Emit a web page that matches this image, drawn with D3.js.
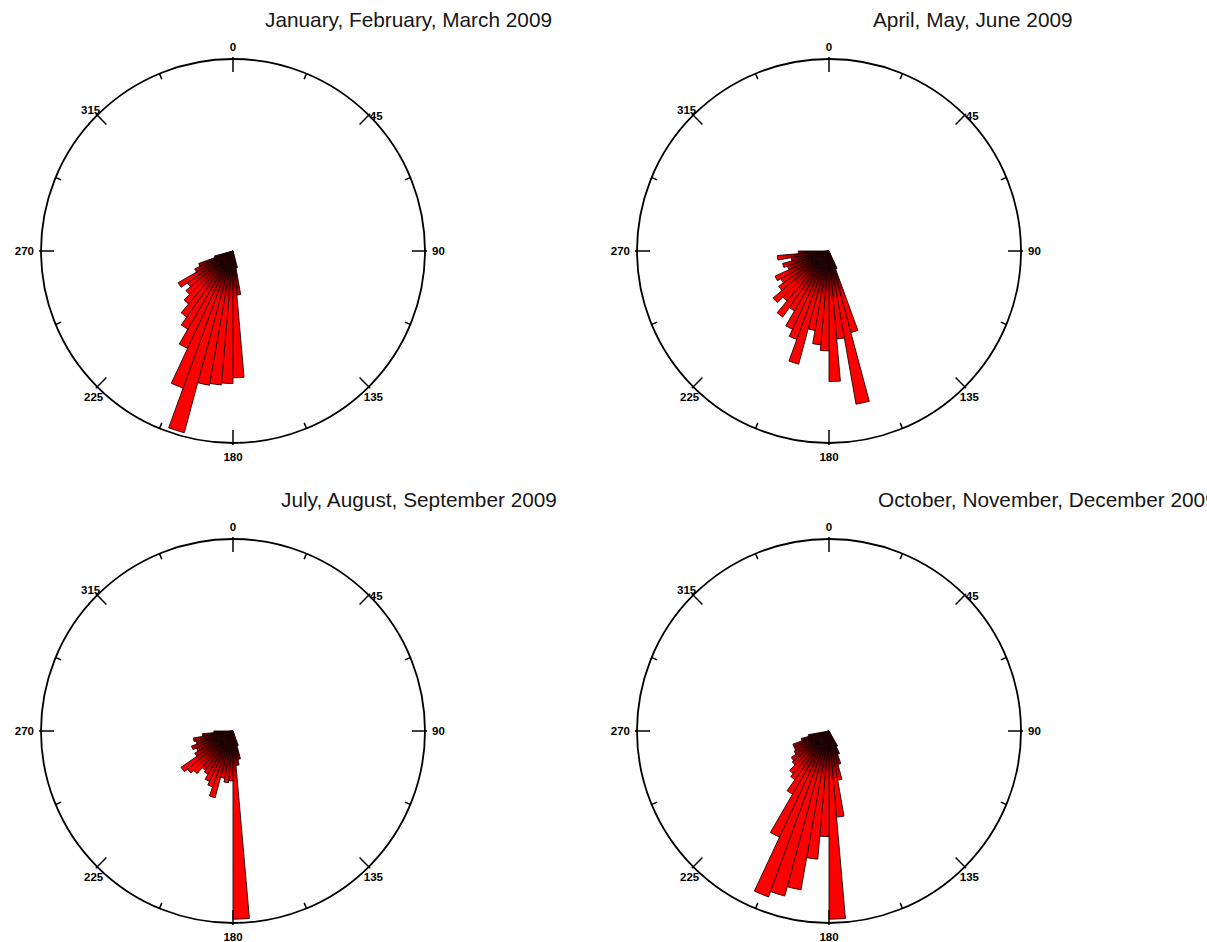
<!DOCTYPE html>
<html>
<head>
<meta charset="utf-8">
<script src="https://cdn.jsdelivr.net/npm/d3@7"></script>
<style>
  body { margin: 0; background: #fff; }
  svg { display: block; }
</style>
</head>
<body>
<svg id="chart" width="1207" height="942"></svg>
<script>
'use strict';

// bin width of every rose, in degrees
const binWidth = 5;

// per quarter: first bin start (deg) and bar lengths (% of outer circle)
const janMarStart = 165;
const janMarValues = [9, 23, 66, 69, 70, 71, 98, 76, 56, 47, 42, 36, 32, 29, 33, 22, 19, 10];

const aprJunStart = 155;
const aprJunValues = [10, 44, 81, 46, 68, 52, 49, 42, 61, 49, 45, 36, 42, 34, 38, 32, 29, 31, 23, 25, 20, 27, 16];

const julSepStart = 160;
const julSepValues = [8, 15, 18, 98, 26, 27, 25, 36, 31, 29, 26, 25, 29, 31, 33, 23, 21, 23, 20, 21, 16, 10];

const octDecStart = 150;
const octDecValues = [9, 13, 18, 26, 45, 98, 55, 67, 84, 89, 92, 61, 38, 31, 29, 25, 24, 21, 20, 20, 15, 11];

const titles = [
  'January, February, March 2009',
  'April, May, June 2009',
  'July, August, September 2009',
  'October, November, December 2009'
];

const axisLabels = [0, 45, 90, 135, 180, 225, 270, 315];
const tickStep = 22.5;

// ---- layout
const R = 192;
const panels = [
  { start: janMarStart, values: janMarValues, title: titles[0], cx: 233, cy: 251, tx: 265, ty: 27 },
  { start: aprJunStart, values: aprJunValues, title: titles[1], cx: 829, cy: 251, tx: 873, ty: 27 },
  { start: julSepStart, values: julSepValues, title: titles[2], cx: 233, cy: 731, tx: 281, ty: 507 },
  { start: octDecStart, values: octDecValues, title: titles[3], cx: 829, cy: 731, tx: 878, ty: 507 }
];

const svg = d3.select('#chart');
const rad = d3.scaleLinear().domain([0, 360]).range([0, 2 * Math.PI]);
const r = d3.scaleLinear().domain([0, 100]).range([0, R]);

const defs = svg.append('defs');
const grad = defs.append('radialGradient')
  .attr('id', 'barFill')
  .attr('gradientUnits', 'userSpaceOnUse')
  .attr('cx', 0).attr('cy', 0).attr('r', R);
grad.append('stop').attr('offset', 0).attr('stop-color', '#000');
grad.append('stop').attr('offset', 0.1).attr('stop-color', '#1a0000');
grad.append('stop').attr('offset', 0.26).attr('stop-color', '#ff0000');
grad.append('stop').attr('offset', 1).attr('stop-color', '#ff0000');

const arc = d3.arc()
  .innerRadius(0)
  .outerRadius(function (d) { return r(d.value); })
  .startAngle(function (d) { return rad(d.a0); })
  .endAngle(function (d) { return rad(d.a0 + binWidth); });

function polar(angleDeg, radius) {
  const a = rad(angleDeg);
  return [radius * Math.sin(a), -radius * Math.cos(a)];
}

function labelPos(deg) {
  const p = polar(deg, R);
  switch (deg) {
    case 0: return { x: 0, y: -R - 8, anchor: 'middle' };
    case 45: return { x: p[0] + 1, y: p[1] + 5, anchor: 'start' };
    case 90: return { x: R + 7, y: 4, anchor: 'start' };
    case 135: return { x: p[0] - 5, y: p[1] + 14, anchor: 'start' };
    case 180: return { x: 0, y: R + 18, anchor: 'middle' };
    case 225: return { x: p[0] + 6, y: p[1] + 14, anchor: 'end' };
    case 270: return { x: -R - 7, y: 4, anchor: 'end' };
    default: return { x: p[0] + 3, y: p[1] - 1, anchor: 'end' };
  }
}

panels.forEach(function (panel) {
  svg.append('text')
    .attr('x', panel.tx)
    .attr('y', panel.ty)
    .attr('font-family', 'Liberation Sans, Arial, sans-serif')
    .attr('font-size', 20.8)
    .attr('fill', '#161616')
    .text(panel.title);

  const g = svg.append('g')
    .attr('transform', 'translate(' + panel.cx + ',' + panel.cy + ')');

  const bins = panel.values.map(function (v, i) {
    return { a0: panel.start + i * binWidth, value: v };
  });

  g.append('g').selectAll('path')
    .data(bins)
    .join('path')
    .attr('d', arc)
    .attr('fill', 'url(#barFill)')
    .attr('stroke', '#200000')
    .attr('stroke-width', 0.9)
    .attr('stroke-linejoin', 'round');

  g.append('circle')
    .attr('r', R)
    .attr('fill', 'none')
    .attr('stroke', '#000')
    .attr('stroke-width', 1.8);

  const ticks = d3.range(0, 360, tickStep);
  g.append('g').selectAll('line')
    .data(ticks)
    .join('line')
    .each(function (deg) {
      const major = deg % 45 === 0;
      const p0 = polar(deg, major ? R - 13 : R - 6);
      const p1 = polar(deg, major ? R + 2 : R);
      d3.select(this)
        .attr('x1', p0[0]).attr('y1', p0[1])
        .attr('x2', p1[0]).attr('y2', p1[1]);
    })
    .attr('stroke', '#000')
    .attr('stroke-width', 1.5);

  g.append('g').selectAll('text')
    .data(axisLabels)
    .join('text')
    .each(function (deg) {
      const lp = labelPos(deg);
      d3.select(this)
        .attr('x', lp.x)
        .attr('y', lp.y)
        .attr('text-anchor', lp.anchor);
    })
    .attr('font-family', 'Liberation Sans, Arial, sans-serif')
    .attr('font-weight', 'bold')
    .attr('font-size', 11.5)
    .attr('fill', '#000')
    .text(function (d) { return String(d); });
});
</script>
</body>
</html>
